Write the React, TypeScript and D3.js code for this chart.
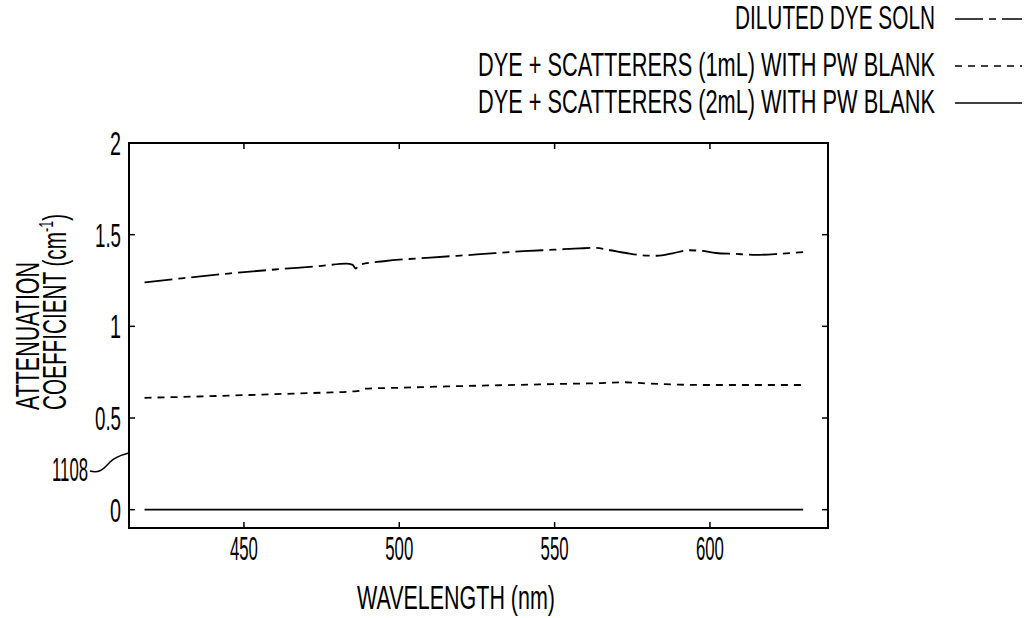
import React, { useLayoutEffect, useRef, useState } from "react";
import * as d3 from "d3";

const wlDye = [418, 430, 445, 460, 475, 483, 485, 486, 487, 495, 510, 525, 540, 550, 558, 563, 568, 573, 578, 583, 588, 593, 597, 602, 608, 615, 622, 630];
const dyeVals = [1.24, 1.262, 1.288, 1.31, 1.33, 1.342, 1.335, 1.315, 1.335, 1.355, 1.375, 1.392, 1.41, 1.418, 1.425, 1.428, 1.415, 1.4, 1.388, 1.385, 1.398, 1.415, 1.412, 1.4, 1.395, 1.39, 1.395, 1.405];

const wl1 = [418, 430, 445, 460, 475, 485, 487, 489, 500, 515, 530, 545, 555, 565, 572, 580, 590, 600, 615, 630];
const vals1 = [0.61, 0.615, 0.622, 0.63, 0.638, 0.645, 0.648, 0.66, 0.665, 0.672, 0.678, 0.683, 0.687, 0.69, 0.695, 0.688, 0.682, 0.68, 0.68, 0.68];

const wl2 = [418, 630];
const vals2 = [0, 0];

const xTicks = [450, 500, 550, 600];
const yTicks = [0, 0.5, 1, 1.5, 2];
const yTickLabels = ["0", "0.5", "1", "1.5", "2"];

const legendLabels = [
  "DILUTED DYE SOLN",
  "DYE + SCATTERERS (1mL) WITH PW BLANK",
  "DYE + SCATTERERS (2mL) WITH PW BLANK",
];
const dashes = ["28,6,7,6", "7,6", ""];

const FONT = "'Liberation Sans', Arial, sans-serif";

function FitText(props: {
  x: number;
  y: number;
  width: number;
  anchor?: "start" | "middle" | "end";
  fontSize: number;
  rotate?: number;
  children: React.ReactNode;
}) {
  const ref = useRef<SVGTextElement>(null);
  const [sx, setSx] = useState(0.6);
  useLayoutEffect(() => {
    if (ref.current) {
      const w = ref.current.getComputedTextLength();
      if (w > 0) setSx(props.width / w);
    }
  }, [props.width]);
  const rot = props.rotate ? ` rotate(${props.rotate})` : "";
  return (
    <text
      ref={ref}
      transform={`translate(${props.x},${props.y})${rot} scale(${sx},1)`}
      textAnchor={props.anchor || "start"}
      fontSize={props.fontSize}
      fill="#000"
    >
      {props.children}
    </text>
  );
}

export default function App() {
  const left = 129, right = 828, top = 143, bottom = 528;
  const x = d3.scaleLinear().domain([413, 638]).range([left, right]);
  const y = d3.scaleLinear().domain([-0.1, 2]).range([bottom, top]);
  const line = d3
    .line<[number, number]>()
    .x((d) => x(d[0]))
    .y((d) => y(d[1]))
    .curve(d3.curveMonotoneX);

  const series = [
    { data: wlDye.map((w, i) => [w, dyeVals[i]] as [number, number]), dash: dashes[0] },
    { data: wl1.map((w, i) => [w, vals1[i]] as [number, number]), dash: dashes[1] },
    { data: wl2.map((w, i) => [w, vals2[i]] as [number, number]), dash: dashes[2] },
  ];

  const legendY = [17, 64, 101];
  const legendLen = [200, 457, 457];
  const tickLen = 6;
  const FS = 33;

  return (
    <svg
      width={1028}
      height={618}
      style={{ position: "absolute", left: 0, top: 0, display: "block" }}
      fontFamily={FONT}
    >
      {/* legend */}
      {legendLabels.map((lab, i) => (
        <g key={lab}>
          <FitText x={935} y={legendY[i] + 12} anchor="end" fontSize={FS} width={legendLen[i]}>
            {lab}
          </FitText>
          <line
            x1={955}
            x2={1022}
            y1={legendY[i] + 2}
            y2={legendY[i] + 2}
            stroke="#000"
            strokeWidth={1.5}
            strokeDasharray={dashes[i] || undefined}
          />
        </g>
      ))}

      {/* box */}
      <rect x={left} y={top} width={right - left} height={bottom - top} fill="none" stroke="#000" strokeWidth={2} />

      {/* y ticks */}
      {yTicks.map((t, i) => (
        <g key={"y" + t}>
          <line x1={left} x2={left + tickLen} y1={y(t)} y2={y(t)} stroke="#000" strokeWidth={1.5} />
          <line x1={right} x2={right - tickLen} y1={y(t)} y2={y(t)} stroke="#000" strokeWidth={1.5} />
          <FitText
            x={121}
            y={y(t) + 12}
            anchor="end"
            fontSize={FS}
            width={yTickLabels[i].length === 1 ? 11 : 26}
          >
            {yTickLabels[i]}
          </FitText>
        </g>
      ))}

      {/* x ticks */}
      {xTicks.map((t) => (
        <g key={"x" + t}>
          <line x1={x(t)} x2={x(t)} y1={bottom} y2={bottom - tickLen} stroke="#000" strokeWidth={1.5} />
          <line x1={x(t)} x2={x(t)} y1={top} y2={top + tickLen} stroke="#000" strokeWidth={1.5} />
          <FitText x={x(t)} y={560} anchor="middle" fontSize={FS} width={28}>
            {t}
          </FitText>
        </g>
      ))}

      {/* series */}
      {series.map((s, i) => (
        <path
          key={i}
          d={line(s.data) || ""}
          fill="none"
          stroke="#000"
          strokeWidth={1.8}
          strokeDasharray={s.dash || undefined}
        />
      ))}

      {/* axis labels */}
      <FitText x={456} y={609} anchor="middle" fontSize={FS} width={198}>
        WAVELENGTH (nm)
      </FitText>
      <FitText x={39} y={410} rotate={-90} fontSize={FS} width={148}>
        ATTENUATION
      </FitText>
      <FitText x={66} y={410} rotate={-90} fontSize={FS} width={196}>
        COEFFICIENT (cm
        <tspan fontSize={20} dy={-13}>-1</tspan>
        <tspan dy={13}>)</tspan>
      </FitText>

      {/* 1108 annotation */}
      <FitText x={88} y={481} anchor="end" fontSize={FS} width={36}>
        1108
      </FitText>
      <path d="M90,471 C100,474 104,468 110,462 C116,456 122,455 129,453" fill="none" stroke="#000" strokeWidth={1.5} />
    </svg>
  );
}
